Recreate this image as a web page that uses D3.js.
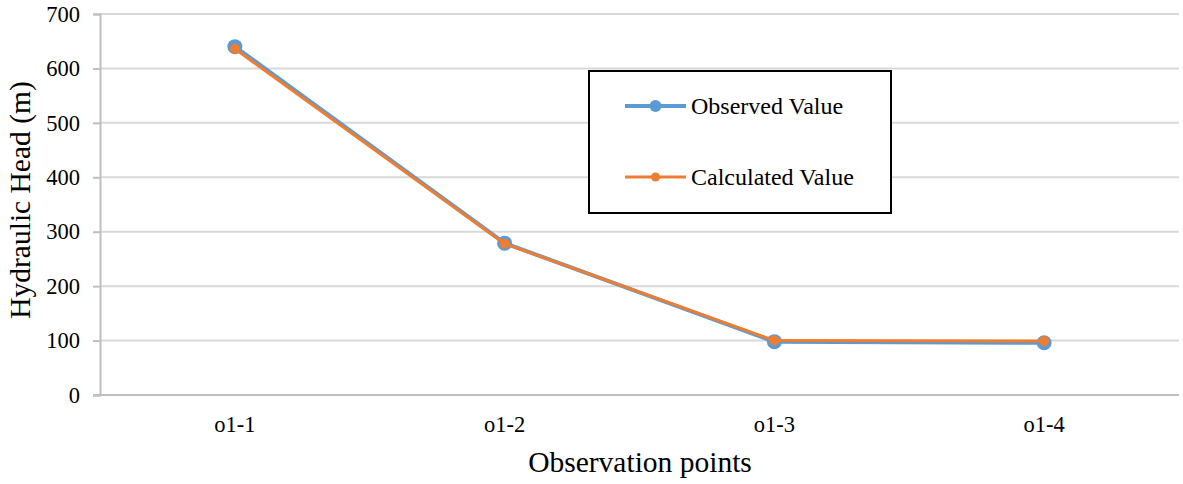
<!DOCTYPE html>
<html>
<head>
<meta charset="utf-8">
<script src="https://cdn.jsdelivr.net/npm/d3@7"></script>
<style>
  body { margin: 0; background: #fff; }
  svg text { font-family: "Liberation Serif", "Times New Roman", serif; fill: #000; }
</style>
</head>
<body>
<svg id="chart" width="1183" height="484"></svg>
<script>
// chart data
const categories = ["o1-1", "o1-2", "o1-3", "o1-4"];
const observed = [640, 279, 98, 96];
const calculated = [636, 278, 100, 99];
const yTicks = [0, 100, 200, 300, 400, 500, 600, 700];

const svg = d3.select("#chart");

// plot area (window.top is reserved, so use other names)
const plotLeft = 100, plotRight = 1179, plotTop = 14, plotBottom = 395;

const x = d3.scaleBand().domain(categories).range([plotLeft, plotRight]);
const y = d3.scaleLinear().domain([0, 700]).range([plotBottom, plotTop]);

// gridlines
svg.append("g")
    .selectAll("line")
    .data(yTicks.filter(d => d > 0))
    .join("line")
    .attr("x1", plotLeft).attr("x2", plotRight)
    .attr("y1", d => y(d)).attr("y2", d => y(d))
    .attr("stroke", "#d9d9d9")
    .attr("stroke-width", 2);

// y axis
const yAxis = svg.append("g")
    .attr("transform", `translate(${plotLeft},0)`)
    .call(d3.axisLeft(y).tickValues(yTicks).tickSize(7).tickPadding(13));
yAxis.select(".domain").attr("stroke", "#bfbfbf").attr("stroke-width", 2);
yAxis.selectAll(".tick line").attr("stroke", "#bfbfbf").attr("stroke-width", 2);
yAxis.selectAll(".tick text").style("font-size", "22.5px");

// x axis
const xAxis = svg.append("g")
    .attr("transform", `translate(0,${plotBottom})`)
    .call(d3.axisBottom(x).tickSize(0).tickPadding(21));
xAxis.select(".domain").attr("stroke", "#bfbfbf").attr("stroke-width", 2)
    .attr("d", `M${plotLeft - 7},0H${plotRight}`);
xAxis.selectAll(".tick text").style("font-size", "22.5px");

// axis titles
svg.append("text")
    .attr("x", 640)
    .attr("y", 472)
    .attr("text-anchor", "middle")
    .style("font-size", "29.5px")
    .text("Observation points");

svg.append("text")
    .attr("transform", `translate(29.5,200) rotate(-90)`)
    .attr("text-anchor", "middle")
    .style("font-size", "29.5px")
    .text("Hydraulic Head (m)");

// series
const series = [
    { name: "Observed Value", values: observed, color: "#5b9bd5", width: 4, r: 7.5, lr: 6 },
    { name: "Calculated Value", values: calculated, color: "#ed7d31", width: 3, r: 5, lr: 4.5 }
];

const line = d3.line()
    .x((d, i) => x(categories[i]) + x.bandwidth() / 2)
    .y(d => y(d));

series.forEach(s => {
    const g = svg.append("g");
    g.append("path")
        .datum(s.values)
        .attr("d", line)
        .attr("fill", "none")
        .attr("stroke", s.color)
        .attr("stroke-width", s.width)
        .attr("stroke-linejoin", "round");
    g.selectAll("circle")
        .data(s.values)
        .join("circle")
        .attr("cx", (d, i) => x(categories[i]) + x.bandwidth() / 2)
        .attr("cy", d => y(d))
        .attr("r", s.r)
        .attr("fill", s.color);
});

// legend
const legend = svg.append("g");
legend.append("rect")
    .attr("x", 589).attr("y", 71)
    .attr("width", 302).attr("height", 142)
    .attr("fill", "#fff")
    .attr("stroke", "#000")
    .attr("stroke-width", 2);

const legendRows = [106, 177];
series.forEach((s, i) => {
    const ly = legendRows[i];
    legend.append("line")
        .attr("x1", 625).attr("x2", 686)
        .attr("y1", ly).attr("y2", ly)
        .attr("stroke", s.color)
        .attr("stroke-width", s.width);
    legend.append("circle")
        .attr("cx", 655.5).attr("cy", ly)
        .attr("r", s.lr)
        .attr("fill", s.color);
    legend.append("text")
        .attr("x", 691).attr("y", ly)
        .attr("dy", "0.35em")
        .style("font-size", "24px")
        .text(s.name);
});
</script>
</body>
</html>
